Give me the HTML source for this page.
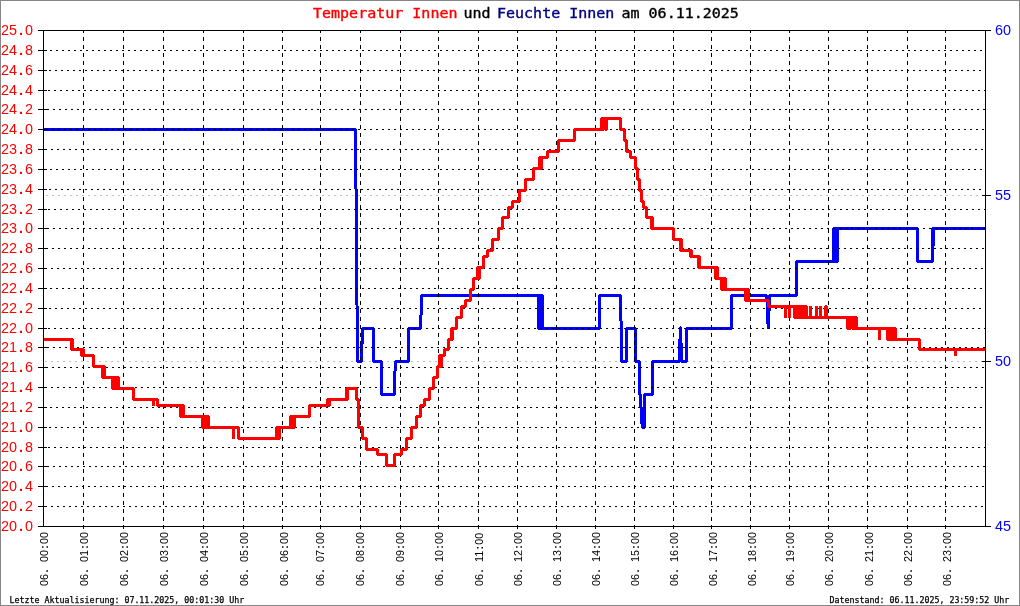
<!DOCTYPE html>
<html lang="de"><head><meta charset="utf-8"><title>Temperatur Innen und Feuchte Innen am 06.11.2025</title>
<style>
html,body{margin:0;padding:0;background:#fff}
body{width:1020px;height:606px;position:relative;overflow:hidden}
div{position:absolute;white-space:pre;margin:0;padding:0}
.t{top:4px;height:18px;font:15px/18px "DejaVu Sans Mono","Liberation Mono",monospace;-webkit-text-stroke:0.4px currentColor;transform-origin:0 50%;transform:scaleY(0.92)}
.yl{left:1px;width:32px;height:16px;font:14.4px/16px "Liberation Sans",sans-serif;color:#ff0000}
i{font-style:normal;font-weight:bold;display:inline-block;width:8px;text-align:center}
b{font-weight:bold;display:inline-block;width:6px;text-align:center}
.yr{left:995px;width:16px;height:16px;font:14.4px/16px "Liberation Sans",sans-serif;color:#0000ff}
.xl{top:532px;width:54px;height:12px;font:10.8px/12px "Liberation Sans",sans-serif;color:#000;
    transform-origin:0 0;transform:translate(-5.5px,54px) rotate(-90deg)}
.f{top:594.5px;height:10px;font:8.3px/10px "DejaVu Sans Mono","Liberation Mono",monospace;color:#000;-webkit-text-stroke:0.25px #000}
</style></head>
<body>
<svg width="1020" height="606" viewBox="0 0 1020 606" style="position:absolute;left:0;top:0">
<rect x="0" y="0" width="1020" height="606" fill="#fff"/>
<line x1="44" y1="361.5" x2="985" y2="361.5" stroke="#c0c0c0" stroke-width="1" stroke-dasharray="2 4" stroke-dashoffset="5" shape-rendering="crispEdges"/>
<line x1="44" y1="195.5" x2="985" y2="195.5" stroke="#c0c0c0" stroke-width="1" stroke-dasharray="2 4" stroke-dashoffset="4" shape-rendering="crispEdges"/>
<path d="M44 129.5L355.5 129.5L357.5 361.5L361.2 361.5L362.7 328.5L373.4 328.5L373.4 361.5L381.7 361.5L381.7 394.5L394.3 394.5L395.3 361.5L408.6 361.5L408.6 328.5L420.7 328.5L421.5 295.5L538.8 295.5L538.8 328.5L539.7 328.5L539.7 295.5L540.6 295.5L540.6 328.5L541.6 328.5L541.6 295.5L542.5 295.5L542.5 328.5L599.6 328.5L599.6 295.5L620.4 295.5L622 361.5L626.6 361.5L626.6 328.5L635.5 328.5L635.5 361.5L639 361.5L639 394.5L640.3 394.5L642.2 427.5L644.4 427.5L644.4 394.5L652.5 394.5L652.5 361.5L679.3 361.5L680.4 327.5L680.5 327.5L681.6 361.5L686.4 361.5L686.4 328.5L731.6 328.5L731.6 295.5L766.8 295.5L768.2 328.5L768.2 328.5L769.7 295.5L796.6 295.5L796.6 261.5L833.8 261.5L833.8 228.5L834.7 228.5L834.7 261.5L835.6 261.5L835.6 228.5L836.5 228.5L836.5 261.5L837.4 261.5L837.4 228.5L917.7 228.5L917.7 261.5L932 261.5L932 228.5L933.9 228.5L933.9 245.5L933.9 228.5L985 228.5" fill="none" stroke="#0000ff" stroke-width="3" stroke-linejoin="bevel" stroke-linecap="butt" shape-rendering="crispEdges"/>
<g shape-rendering="crispEdges" fill="none" stroke-width="1">
<line x1="44" y1="506.5" x2="985" y2="506.5" stroke="#000" stroke-dasharray="2 4" stroke-dashoffset="5"/>
<line x1="44" y1="486.5" x2="985" y2="486.5" stroke="#000" stroke-dasharray="2 4" stroke-dashoffset="4"/>
<line x1="44" y1="466.5" x2="985" y2="466.5" stroke="#000" stroke-dasharray="2 4" stroke-dashoffset="3"/>
<line x1="44" y1="447.5" x2="985" y2="447.5" stroke="#000" stroke-dasharray="2 4" stroke-dashoffset="2"/>
<line x1="44" y1="427.5" x2="985" y2="427.5" stroke="#000" stroke-dasharray="2 4" stroke-dashoffset="1"/>
<line x1="44" y1="407.5" x2="985" y2="407.5" stroke="#000" stroke-dasharray="2 4" stroke-dashoffset="0"/>
<line x1="44" y1="387.5" x2="985" y2="387.5" stroke="#000" stroke-dasharray="2 4" stroke-dashoffset="5"/>
<line x1="44" y1="367.5" x2="985" y2="367.5" stroke="#000" stroke-dasharray="2 4" stroke-dashoffset="4"/>
<line x1="44" y1="347.5" x2="985" y2="347.5" stroke="#000" stroke-dasharray="2 4" stroke-dashoffset="3"/>
<line x1="44" y1="328.5" x2="985" y2="328.5" stroke="#000" stroke-dasharray="2 4" stroke-dashoffset="2"/>
<line x1="44" y1="308.5" x2="985" y2="308.5" stroke="#000" stroke-dasharray="2 4" stroke-dashoffset="1"/>
<line x1="44" y1="288.5" x2="985" y2="288.5" stroke="#000" stroke-dasharray="2 4" stroke-dashoffset="0"/>
<line x1="44" y1="268.5" x2="985" y2="268.5" stroke="#000" stroke-dasharray="2 4" stroke-dashoffset="5"/>
<line x1="44" y1="248.5" x2="985" y2="248.5" stroke="#000" stroke-dasharray="2 4" stroke-dashoffset="4"/>
<line x1="44" y1="228.5" x2="985" y2="228.5" stroke="#000" stroke-dasharray="2 4" stroke-dashoffset="3"/>
<line x1="44" y1="209.5" x2="985" y2="209.5" stroke="#000" stroke-dasharray="2 4" stroke-dashoffset="2"/>
<line x1="44" y1="189.5" x2="985" y2="189.5" stroke="#000" stroke-dasharray="2 4" stroke-dashoffset="1"/>
<line x1="44" y1="169.5" x2="985" y2="169.5" stroke="#000" stroke-dasharray="2 4" stroke-dashoffset="0"/>
<line x1="44" y1="149.5" x2="985" y2="149.5" stroke="#000" stroke-dasharray="2 4" stroke-dashoffset="5"/>
<line x1="44" y1="129.5" x2="985" y2="129.5" stroke="#000" stroke-dasharray="2 4" stroke-dashoffset="4"/>
<line x1="44" y1="109.5" x2="985" y2="109.5" stroke="#000" stroke-dasharray="2 4" stroke-dashoffset="3"/>
<line x1="44" y1="90.5" x2="985" y2="90.5" stroke="#000" stroke-dasharray="2 4" stroke-dashoffset="2"/>
<line x1="44" y1="70.5" x2="985" y2="70.5" stroke="#000" stroke-dasharray="2 4" stroke-dashoffset="1"/>
<line x1="44" y1="50.5" x2="985" y2="50.5" stroke="#000" stroke-dasharray="2 4" stroke-dashoffset="0"/>
<line x1="83.5" y1="30" x2="83.5" y2="529" stroke="#000" stroke-dasharray="4 4" stroke-dashoffset="1"/>
<line x1="123.5" y1="30" x2="123.5" y2="529" stroke="#000" stroke-dasharray="4 4" stroke-dashoffset="1"/>
<line x1="163.5" y1="30" x2="163.5" y2="529" stroke="#000" stroke-dasharray="4 4" stroke-dashoffset="1"/>
<line x1="203.5" y1="30" x2="203.5" y2="529" stroke="#000" stroke-dasharray="4 4" stroke-dashoffset="1"/>
<line x1="243.5" y1="30" x2="243.5" y2="529" stroke="#000" stroke-dasharray="4 4" stroke-dashoffset="1"/>
<line x1="282.5" y1="30" x2="282.5" y2="529" stroke="#000" stroke-dasharray="4 4" stroke-dashoffset="1"/>
<line x1="320.5" y1="30" x2="320.5" y2="529" stroke="#000" stroke-dasharray="4 4" stroke-dashoffset="1"/>
<line x1="360.5" y1="30" x2="360.5" y2="529" stroke="#000" stroke-dasharray="4 4" stroke-dashoffset="1"/>
<line x1="400.5" y1="30" x2="400.5" y2="529" stroke="#000" stroke-dasharray="4 4" stroke-dashoffset="1"/>
<line x1="438.5" y1="30" x2="438.5" y2="529" stroke="#000" stroke-dasharray="4 4" stroke-dashoffset="1"/>
<line x1="478.5" y1="30" x2="478.5" y2="529" stroke="#000" stroke-dasharray="4 4" stroke-dashoffset="1"/>
<line x1="517.5" y1="30" x2="517.5" y2="529" stroke="#000" stroke-dasharray="4 4" stroke-dashoffset="1"/>
<line x1="556.5" y1="30" x2="556.5" y2="529" stroke="#000" stroke-dasharray="4 4" stroke-dashoffset="1"/>
<line x1="595.5" y1="30" x2="595.5" y2="529" stroke="#000" stroke-dasharray="4 4" stroke-dashoffset="1"/>
<line x1="634.5" y1="30" x2="634.5" y2="529" stroke="#000" stroke-dasharray="4 4" stroke-dashoffset="1"/>
<line x1="673.5" y1="30" x2="673.5" y2="529" stroke="#000" stroke-dasharray="4 4" stroke-dashoffset="1"/>
<line x1="711.5" y1="30" x2="711.5" y2="529" stroke="#000" stroke-dasharray="4 4" stroke-dashoffset="1"/>
<line x1="750.5" y1="30" x2="750.5" y2="529" stroke="#000" stroke-dasharray="4 4" stroke-dashoffset="1"/>
<line x1="789.5" y1="30" x2="789.5" y2="529" stroke="#000" stroke-dasharray="4 4" stroke-dashoffset="1"/>
<line x1="828.5" y1="30" x2="828.5" y2="529" stroke="#000" stroke-dasharray="4 4" stroke-dashoffset="1"/>
<line x1="867.5" y1="30" x2="867.5" y2="529" stroke="#000" stroke-dasharray="4 4" stroke-dashoffset="1"/>
<line x1="907.5" y1="30" x2="907.5" y2="529" stroke="#000" stroke-dasharray="4 4" stroke-dashoffset="1"/>
<line x1="945.5" y1="30" x2="945.5" y2="529" stroke="#000" stroke-dasharray="4 4" stroke-dashoffset="1"/>
</g>
<path d="M44 339.5L71.3 339.5L71.3 349.5L72.1 349.5L72.1 339.5L72.9 339.5L72.9 349.5L81.6 349.5L81.6 355.5L82.3 355.5L82.3 349.5L83 349.5L83 355.5L93.7 355.5L93.7 366.5L102.7 366.5L102.7 377.5L103.6 377.5L103.6 366.5L104.4 366.5L104.4 377.5L112.8 377.5L112.8 388.5L113.7 388.5L113.7 377.5L114.6 377.5L114.6 388.5L115.5 388.5L115.5 377.5L116.4 377.5L116.4 388.5L117.3 388.5L117.3 377.5L118.2 377.5L118.2 388.5L133.5 388.5L133.5 399.5L153.5 399.5L153.5 406L153.5 399.5L157.5 399.5L157.5 405.5L180.4 405.5L180.4 416.5L181.1 416.5L181.1 405.5L181.7 405.5L181.7 416.5L182.3 416.5L182.3 405.5L183 405.5L183 416.5L202.7 416.5L202.7 427.5L203.7 427.5L203.7 416.5L204.6 416.5L204.6 427.5L205.6 427.5L205.6 416.5L206.6 416.5L206.6 427.5L207.5 427.5L207.5 416.5L208.5 416.5L208.5 427.5L233.7 427.5L233.7 439L233.7 427.5L238.6 427.5L238.6 438.5L276.9 438.5L276.9 427.5L277.5 427.5L277.5 438.5L278.2 438.5L278.2 427.5L278.9 427.5L278.9 438.5L279.5 438.5L279.5 427.5L290.7 427.5L290.7 416.5L291.7 416.5L291.7 427.5L292.6 427.5L292.6 416.5L293.6 416.5L293.6 427.5L294.6 427.5L294.6 416.5L309.5 416.5L309.5 405.5L327.7 405.5L327.7 399.5L328.6 399.5L328.6 405.5L329.5 405.5L329.5 399.5L346.6 399.5L346.6 388.5L347.2 388.5L347.2 399.5L347.9 399.5L347.9 388.5L356.6 388.5L356.6 399.5L358.5 399.5L358.5 427.5L362.2 427.5L362.2 438.5L366.5 438.5L366.5 449.5L377 449.5L377 454.5L386.7 454.5L386.7 465.5L394.5 465.5L394.5 454.5L401.3 454.5L401.3 449.5L406.8 449.5L406.8 438.5L411.6 438.5L411.6 427.5L416 427.5L416 416.5L420.7 416.5L420.7 405.5L424.7 405.5L424.7 399.5L429.3 399.5L429.3 388.5L433.5 388.5L433.5 377.5L437.3 377.5L437.3 366.5L439.1 366.5L439.1 355.5L440.1 355.5L440.1 366.5L441.2 366.5L441.2 355.5L444.7 355.5L444.7 349.5L448.7 349.5L448.7 339.5L451.7 339.5L451.7 328.5L452.1 328.5L452.1 339.5L452.5 339.5L452.5 328.5L456.5 328.5L456.5 317.5L461.5 317.5L461.5 306.5L465.4 306.5L465.4 300.5L470.3 300.5L470.3 289.5L473.7 289.5L473.7 278.5L477.9 278.5L477.9 267.5L478.6 267.5L478.6 278.5L479.3 278.5L479.3 267.5L483.6 267.5L483.6 256.5L487.5 256.5L487.5 250.5L492.1 250.5L492.1 239.5L498.5 239.5L498.5 228.5L502.4 228.5L502.4 217.5L508.7 217.5L508.7 207.5L512.4 207.5L512.4 201.5L519.3 201.5L519.3 190.5L525.2 190.5L525.2 179.5L533.4 179.5L533.4 168.5L539.8 168.5L539.8 157.5L540.8 157.5L540.8 168.5L541.8 168.5L541.8 157.5L547.8 157.5L547.8 151.5L558.3 151.5L558.3 140.5L574.7 140.5L574.7 129.5L601.6 129.5L601.6 118.5L602.7 118.5L602.7 129.5L603.9 129.5L603.9 118.5L605 118.5L605 129.5L606.1 129.5L606.1 118.5L620.4 118.5L620.4 129.5L624.4 129.5L624.4 140.5L626.6 140.5L626.6 151.5L630.8 151.5L630.8 157.5L635.5 157.5L635.5 168.5L637.5 168.5L637.5 179.5L639.7 179.5L639.7 190.5L641.5 190.5L641.5 201.5L643.4 201.5L643.4 207.5L646.5 207.5L646.5 217.5L651 217.5L651 228.5L651.7 228.5L651.7 217.5L652.4 217.5L652.4 228.5L673.5 228.5L673.5 239.5L680.1 239.5L680.1 250.5L680.7 250.5L680.7 239.5L681.3 239.5L681.3 250.5L690.6 250.5L690.6 256.5L691.2 256.5L691.2 250.5L691.7 250.5L691.7 256.5L698.8 256.5L698.8 267.5L699.3 267.5L699.3 256.5L699.9 256.5L699.9 267.5L715.7 267.5L715.7 278.5L716.4 278.5L716.4 267.5L717.1 267.5L717.1 278.5L721.7 278.5L721.7 289.5L722.5 289.5L722.5 278.5L723.4 278.5L723.4 289.5L724.2 289.5L724.2 278.5L725 278.5L725 289.5L745.7 289.5L745.7 300.5L746.4 300.5L746.4 289.5L747 289.5L747 300.5L747.7 300.5L747.7 289.5L748.4 289.5L748.4 300.5L768.4 300.5L768.4 306.5L785.4 306.5L785.4 318L785.4 306.5L789.5 306.5L789.5 318L789.5 306.5L794.4 306.5L794.4 317.5L795.4 317.5L795.4 306.5L796.3 306.5L796.3 317.5L797.3 317.5L797.3 306.5L798.3 306.5L798.3 317.5L799.2 317.5L799.2 306.5L800.2 306.5L800.2 317.5L801.2 317.5L801.2 306.5L802.1 306.5L802.1 317.5L803.1 317.5L803.1 306.5L804.1 306.5L804.1 317.5L805 317.5L805 306.5L806 306.5L806 317.5L810.4 317.5L810.4 306L810.4 317.5L816.5 317.5L816.5 306L816.5 317.5L820.3 317.5L820.3 306L820.3 317.5L825.3 317.5L825.3 306.5L826.1 306.5L826.1 317.5L847.8 317.5L847.8 328.5L848.8 328.5L848.8 317.5L849.9 317.5L849.9 328.5L850.9 328.5L850.9 317.5L852 317.5L852 328.5L853 328.5L853 317.5L854 317.5L854 328.5L855.1 328.5L855.1 317.5L856.1 317.5L856.1 328.5L879.3 328.5L879.3 340L879.3 328.5L887.7 328.5L887.7 339.5L888.6 339.5L888.6 328.5L889.6 328.5L889.6 339.5L890.5 339.5L890.5 328.5L891.5 328.5L891.5 339.5L892.4 339.5L892.4 328.5L893.3 328.5L893.3 339.5L894.3 339.5L894.3 328.5L895.2 328.5L895.2 339.5L919.6 339.5L919.6 349.5L955.4 349.5L955.4 356L955.4 349.5L985 349.5" fill="none" stroke="#ff0000" stroke-width="3" stroke-linejoin="bevel" stroke-linecap="butt" shape-rendering="crispEdges"/>
<g shape-rendering="crispEdges" fill="#000">
<rect x="43" y="30" width="1" height="497"/>
<rect x="985" y="30" width="1" height="497"/>
<rect x="43" y="30" width="943" height="1"/>
<rect x="43" y="526" width="943" height="1"/>
<rect x="38" y="526" width="9" height="1"/>
<rect x="38" y="506" width="9" height="1"/>
<rect x="38" y="486" width="9" height="1"/>
<rect x="38" y="466" width="9" height="1"/>
<rect x="38" y="447" width="9" height="1"/>
<rect x="38" y="427" width="9" height="1"/>
<rect x="38" y="407" width="9" height="1"/>
<rect x="38" y="387" width="9" height="1"/>
<rect x="38" y="367" width="9" height="1"/>
<rect x="38" y="347" width="9" height="1"/>
<rect x="38" y="328" width="9" height="1"/>
<rect x="38" y="308" width="9" height="1"/>
<rect x="38" y="288" width="9" height="1"/>
<rect x="38" y="268" width="9" height="1"/>
<rect x="38" y="248" width="9" height="1"/>
<rect x="38" y="228" width="9" height="1"/>
<rect x="38" y="209" width="9" height="1"/>
<rect x="38" y="189" width="9" height="1"/>
<rect x="38" y="169" width="9" height="1"/>
<rect x="38" y="149" width="9" height="1"/>
<rect x="38" y="129" width="9" height="1"/>
<rect x="38" y="109" width="9" height="1"/>
<rect x="38" y="90" width="9" height="1"/>
<rect x="38" y="70" width="9" height="1"/>
<rect x="38" y="50" width="9" height="1"/>
<rect x="38" y="30" width="9" height="1"/>
<rect x="982" y="30" width="9" height="1"/>
<rect x="982" y="195" width="9" height="1"/>
<rect x="982" y="361" width="9" height="1"/>
<rect x="982" y="526" width="9" height="1"/>
</g>
<g shape-rendering="crispEdges" fill="#868686">
<rect x="0" y="0" width="1020" height="1"/><rect x="0" y="605" width="1020" height="1"/>
<rect x="0" y="0" width="1" height="606"/><rect x="1019" y="0" width="1" height="606"/>
</g>
</svg>
<div class="t" style="left:313px;color:#ff0000">Temperatur Innen</div>
<div class="t" style="left:463.5px;color:#000">und</div>
<div class="t" style="left:497px;color:#000080">Feuchte Innen</div>
<div class="t" style="left:621.5px;color:#000">am 06.11.2025</div>
<div class="yl" style="top:518px">20<i>.</i>0</div>
<div class="yl" style="top:498px">20<i>.</i>2</div>
<div class="yl" style="top:478px">20<i>.</i>4</div>
<div class="yl" style="top:458px">20<i>.</i>6</div>
<div class="yl" style="top:439px">20<i>.</i>8</div>
<div class="yl" style="top:419px">21<i>.</i>0</div>
<div class="yl" style="top:399px">21<i>.</i>2</div>
<div class="yl" style="top:379px">21<i>.</i>4</div>
<div class="yl" style="top:359px">21<i>.</i>6</div>
<div class="yl" style="top:339px">21<i>.</i>8</div>
<div class="yl" style="top:320px">22<i>.</i>0</div>
<div class="yl" style="top:300px">22<i>.</i>2</div>
<div class="yl" style="top:280px">22<i>.</i>4</div>
<div class="yl" style="top:260px">22<i>.</i>6</div>
<div class="yl" style="top:240px">22<i>.</i>8</div>
<div class="yl" style="top:220px">23<i>.</i>0</div>
<div class="yl" style="top:201px">23<i>.</i>2</div>
<div class="yl" style="top:181px">23<i>.</i>4</div>
<div class="yl" style="top:161px">23<i>.</i>6</div>
<div class="yl" style="top:141px">23<i>.</i>8</div>
<div class="yl" style="top:121px">24<i>.</i>0</div>
<div class="yl" style="top:101px">24<i>.</i>2</div>
<div class="yl" style="top:82px">24<i>.</i>4</div>
<div class="yl" style="top:62px">24<i>.</i>6</div>
<div class="yl" style="top:42px">24<i>.</i>8</div>
<div class="yl" style="top:22px">25<i>.</i>0</div>
<div class="yr" style="top:22px">60</div>
<div class="yr" style="top:187px">55</div>
<div class="yr" style="top:353px">50</div>
<div class="yr" style="top:518px">45</div>
<div class="xl" style="left:42.5px">06<b>.</b><b> </b>00<b>:</b>00</div>
<div class="xl" style="left:82.5px">06<b>.</b><b> </b>01<b>:</b>00</div>
<div class="xl" style="left:123px">06<b>.</b><b> </b>02<b>:</b>00</div>
<div class="xl" style="left:162.5px">06<b>.</b><b> </b>03<b>:</b>00</div>
<div class="xl" style="left:202.8px">06<b>.</b><b> </b>04<b>:</b>00</div>
<div class="xl" style="left:242.5px">06<b>.</b><b> </b>05<b>:</b>00</div>
<div class="xl" style="left:282.5px">06<b>.</b><b> </b>06<b>:</b>00</div>
<div class="xl" style="left:319.4px">06<b>.</b><b> </b>07<b>:</b>00</div>
<div class="xl" style="left:359.4px">06<b>.</b><b> </b>08<b>:</b>00</div>
<div class="xl" style="left:399.4px">06<b>.</b><b> </b>09<b>:</b>00</div>
<div class="xl" style="left:437.5px">06<b>.</b><b> </b>10<b>:</b>00</div>
<div class="xl" style="left:478px">06<b>.</b><b> </b>11<b>:</b>00</div>
<div class="xl" style="left:516.9px">06<b>.</b><b> </b>12<b>:</b>00</div>
<div class="xl" style="left:556.1px">06<b>.</b><b> </b>13<b>:</b>00</div>
<div class="xl" style="left:595px">06<b>.</b><b> </b>14<b>:</b>00</div>
<div class="xl" style="left:634.4px">06<b>.</b><b> </b>15<b>:</b>00</div>
<div class="xl" style="left:673px">06<b>.</b><b> </b>16<b>:</b>00</div>
<div class="xl" style="left:711.9px">06<b>.</b><b> </b>17<b>:</b>00</div>
<div class="xl" style="left:750.9px">06<b>.</b><b> </b>18<b>:</b>00</div>
<div class="xl" style="left:789.4px">06<b>.</b><b> </b>19<b>:</b>00</div>
<div class="xl" style="left:828.1px">06<b>.</b><b> </b>20<b>:</b>00</div>
<div class="xl" style="left:867.8px">06<b>.</b><b> </b>21<b>:</b>00</div>
<div class="xl" style="left:906.9px">06<b>.</b><b> </b>22<b>:</b>00</div>
<div class="xl" style="left:945.6px">06<b>.</b><b> </b>23<b>:</b>00</div>
<div class="f" style="left:9.5px">Letzte Aktualisierung: 07.11.2025, 00:01:30 Uhr</div>
<div class="f" style="left:829.5px">Datenstand: 06.11.2025, 23:59:52 Uhr</div>
</body></html>
